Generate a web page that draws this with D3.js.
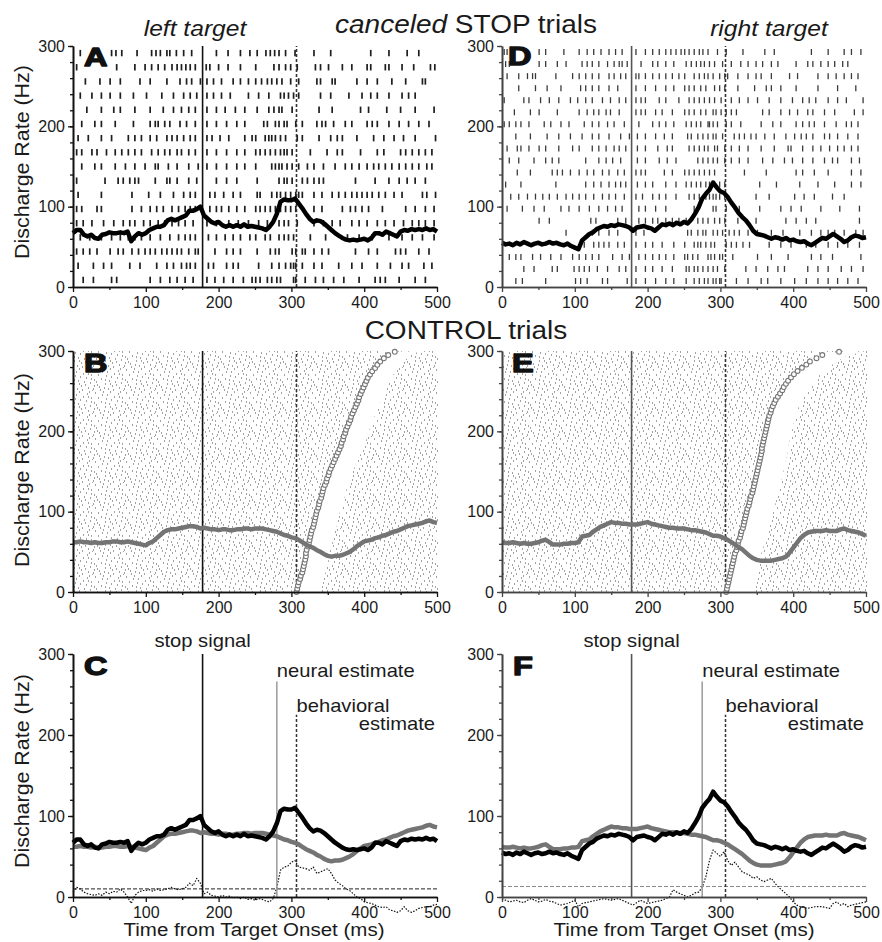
<!DOCTYPE html>
<html><head><meta charset="utf-8">
<script src="https://cdn.jsdelivr.net/npm/d3@7"></script>
<style>
body{margin:0;background:#fff}
svg{display:block}
text{font-family:"Liberation Sans",Arial,Helvetica,sans-serif}
</style>
</head><body>
<svg id="c" width="882" height="942"></svg>
<script>
// ---------------- DATA ----------------
const sampleTimes = d3.range(0, 505, 5); // ms, 5-ms samples
const xTicks = [0, 100, 200, 300, 400, 500];
const yTicks = [0, 100, 200, 300];
const stopSignal = 178;          // ms
const behavioralEstimate = 307;  // ms
const neuralEstimateLeft = 280;  // ms
const neuralEstimateRight = 275; // ms
const thresholdLeft = 10;        // Hz
const thresholdRight = 13;       // Hz
const postSaccadePauseB = 32;    // ms
const postSaccadePauseE = 36;    // ms

// canceled STOP trials spike density (left target)
const canceledLeft = [67,71,71,65,63,65,61,60,65,66,68,67,67,68,67,69,57,63,67,65,67,71,73,75,75,77,83,85,83,85,87,89,95,95,97,100,89,85,81,79,81,77,75,77,75,77,75,78,75,76,75,74,73,71,75,81,91,106,109,108,108,110,104,98,91,85,81,83,82,79,75,71,67,64,61,59,58,59,58,59,60,58,61,67,67,65,69,67,65,63,69,71,70,72,71,72,71,73,71,72,69];
// canceled STOP trials spike density (right target)
const canceledRight = [55,53,54,52,55,53,56,54,52,54,55,53,54,56,54,55,53,52,54,51,49,47,58,62,66,68,72,74,76,75,77,76,78,77,76,74,70,74,75,76,74,73,70,74,78,77,79,77,80,78,81,79,84,91,99,110,116,121,130,124,119,117,112,105,99,92,87,83,77,70,66,65,64,62,60,62,61,59,61,58,59,57,56,57,54,52,55,58,61,60,63,66,63,60,56,58,62,64,63,61,62];
// control trials spike density
const controlLeft = [62,62,63,62,62,61,62,61,61,62,62,63,63,62,62,63,62,61,60,59,58,61,63,67,71,75,77,78,78,79,80,81,82,82,81,79,80,79,78,78,77,78,78,77,77,78,78,79,79,78,79,79,79,78,77,76,75,73,71,70,68,67,65,62,59,57,55,52,50,47,45,44,45,45,46,48,50,53,57,60,63,64,65,67,68,70,71,73,75,76,78,80,82,83,84,85,86,88,89,87,86];
const controlRight = [62,61,61,62,61,60,61,60,60,61,62,64,65,62,59,59,59,60,60,61,61,62,69,70,71,75,78,81,83,85,87,86,86,85,85,84,84,84,85,86,87,85,84,83,82,81,80,80,79,79,79,78,77,77,76,75,74,72,70,70,69,67,65,62,59,56,53,49,45,42,40,39,39,39,39,40,41,42,44,49,55,61,67,71,74,75,76,76,76,77,76,76,76,78,79,77,76,75,74,72,70];
// differential spike density (canceled - control)
const diffLeft = [6,12,10,6,4,3,2,4,2,6,4,7,6,10,6,0,-8,2,6,8,8,9,7,10,8,9,10,12,10,9,10,12,17,14,23,17,4,6,2,1,0,2,0,1,-1,0,-2,0,-3,-2,-4,-2,-3,-5,-6,-2,12,33,37,38,43,45,37,36,35,33,37,29,31,33,35,29,21,17,14,10,8,4,0,-2,-6,-7,-8,-10,-12,-13,-12,-16,-17,-19,-17,-12,-17,-19,-17,-14,-13,-12,-12,-10,-9];
const diffRight = [-2,-4,-6,-5,-4,-6,-7,-4,-2,-4,-6,-5,-3,-5,-6,-8,-10,-9,-8,-6,-4,-12,-8,-7,-6,-5,-4,-3,-2,-3,-4,-3,-2,-4,-6,-8,-10,-7,-4,-6,-8,-7,-6,-5,-4,-2,0,9,6,4,2,0,2,5,6,12,25,45,58,54,50,56,45,39,43,37,31,29,27,23,25,21,19,21,23,17,12,8,4,0,-6,-10,-12,-13,-14,-13,-12,-12,-12,-13,-14,-8,-6,-10,-8,-12,-10,-9,-8,-7,-6];
// saccade times of control trials, sorted (ms)
const saccadesLeft = [307,308,309,310,312,313,315,316,317,318,319,320,320,321,323,324,325,326,327,328,330,331,332,333,334,335,337,338,339,341,342,343,344,346,348,349,351,352,354,356,358,360,362,364,366,368,369,371,372,374,375,377,379,381,382,384,386,388,390,392,393,395,397,399,401,403,405,408,411,415,418,422,427,433,442];
const saccadesRight = [308,309,310,311,312,313,314,315,316,317,318,319,320,322,323,324,325,327,328,329,331,332,333,334,335,336,337,339,340,341,342,344,345,346,347,348,349,350,351,352,353,354,355,356,357,357,358,359,360,361,362,363,364,365,366,367,369,370,372,374,376,379,382,385,387,390,393,397,401,406,412,418,423,432,440,463];
// spike times (ms) of canceled trials, one row per trial
const rasterLeft = [
[10,53,59,67,88,108,114,120,129,133,142,152,163,197,213,230,243,253,265,271,277,283,292,305,331,354,409,434,459,475],
[5,60,85,99,108,117,126,136,143,149,155,161,168,183,188,200,213,230,251,276,283,292,299,308,333,340,351,370,383,404,409,429,434,452,468,491,497],
[17,37,51,65,92,106,129,147,156,163,175,184,193,204,220,230,241,251,259,267,273,280,287,299,310,335,340,356,360,390,404,418,438,457,480,484],
[10,26,39,51,65,83,101,122,138,152,161,170,184,193,204,216,241,255,269,285,290,296,303,310,340,354,379,397,409,418,434,452,461,470],
[19,39,56,65,85,106,124,138,149,159,168,184,197,209,223,236,253,269,276,283,287,301,338,356,395,406,431,450,470,496],
[12,30,39,58,83,106,113,117,126,133,147,156,168,184,197,211,225,236,262,267,278,283,290,294,306,315,335,342,347,358,374,383,404,411,418,434,448,461,475,489],
[7,21,39,53,76,85,94,106,115,129,136,143,152,161,168,184,191,202,214,236,246,251,264,269,273,278,285,292,308,315,338,354,363,370,390,413,427,441,454,470,498],
[5,12,26,33,46,58,67,76,85,94,108,117,126,133,143,149,159,168,184,197,211,225,236,251,257,264,271,278,285,290,294,301,326,349,363,370,395,418,427,450,457,466,475,484,493],
[12,30,39,58,72,85,99,113,117,131,143,159,172,184,197,211,225,236,251,273,278,283,287,294,301,310,322,331,344,360,374,383,393,404,413,420,429,438,448,457,466,475,486,493],
[5,44,62,69,78,85,90,113,129,133,143,159,170,197,211,225,253,283,290,294,301,315,322,331,338,344,388,415,434,448,459,470,484],
[7,39,81,104,120,138,152,161,168,188,195,207,220,230,253,257,273,280,285,292,299,306,310,315,331,342,356,365,374,383,390,397,404,411,420,429,441,452,480,486,498],
[5,12,33,39,81,94,106,115,124,136,145,154,161,168,188,197,204,214,225,236,251,257,264,271,278,285,292,299,306,331,342,370,381,388,397,406,425,457,470,484,496],
[5,14,26,42,56,69,78,85,97,106,117,126,136,145,154,165,184,197,214,227,241,255,267,283,290,296,308,331,344,356,367,383,393,404,418,429,441,454,466,475,484,496],
[10,23,39,53,65,76,85,94,106,120,133,145,154,161,168,186,197,209,220,230,243,251,264,271,283,290,296,303,326,347,377,393,411,434,452,466,480,496],
[5,14,23,33,51,62,69,81,90,99,106,113,122,129,136,143,149,159,168,172,195,211,220,230,253,271,278,283,301,306,315,319,331,342,351,388,406,418,443,450,457,475,489],
[7,28,42,53,78,92,115,129,138,149,156,161,168,186,193,211,220,227,255,273,283,292,299,303,306,315,331,342,365,383,397,418,436,452,461,482,493],
[14,28,53,60,106,120,133,143,154,165,184,195,207,220,234,246,251,257,267,273,280,285,303,306,319,333,344,358,372,393,415,422,429,448,470,484]
];
const rasterRight = [
[3,7,51,60,85,106,117,126,136,147,156,165,184,197,207,216,225,232,239,246,251,257,264,271,276,283,296,308,331,361,374,425,448,470,480,493],
[5,10,51,60,76,88,110,117,124,133,145,154,161,165,172,191,207,214,225,236,253,260,267,273,278,285,292,303,315,328,338,349,358,370,379,404,420,427,438,448,457,468,475],
[7,23,35,42,46,74,97,106,115,124,133,147,154,163,170,184,188,197,207,216,225,234,243,251,264,271,278,283,290,299,306,310,324,338,349,356,370,395,406,434,448,459,470,480,489],
[23,46,62,81,108,115,124,133,147,159,184,197,211,225,236,251,257,264,273,280,292,299,306,324,347,363,370,383,404,434,461,486],
[3,30,37,53,65,78,94,104,115,124,138,149,161,170,184,191,197,216,225,243,257,264,271,278,285,292,301,315,326,338,351,367,383,399,413,422,431,448,461,473,496],
[17,39,51,76,106,117,126,133,143,149,161,184,191,197,211,220,234,251,257,264,273,280,290,294,301,308,315,322,358,367,383,395,406,420,427,443,457,484,496],
[3,10,19,26,37,58,67,81,92,113,124,133,145,154,168,188,207,216,225,236,253,260,267,273,283,285,290,296,308,315,328,356,372,383,404,413,422,429,443,459,473,480,489],
[19,39,62,78,94,110,124,133,147,163,175,186,197,211,223,234,255,260,269,276,283,290,294,303,319,326,333,342,349,361,374,390,402,411,418,427,443,450,461,475,489],
[7,21,26,37,51,60,78,97,106,124,133,143,154,161,170,186,197,214,227,234,257,264,271,278,283,292,296,306,315,326,338,356,374,393,397,413,427,438,450,461,470,480,489],
[10,23,44,60,69,78,115,133,143,152,163,186,197,216,227,239,269,276,283,290,296,306,315,326,338,358,372,388,399,413,427,443,454,461,480,491],
[21,39,69,76,83,94,106,117,126,138,147,159,168,184,191,197,223,234,251,257,264,271,278,285,292,333,363,404,413,429,448,480,493],
[5,26,74,115,126,136,147,156,163,170,186,197,207,225,239,253,260,267,273,280,285,292,299,306,354,377,409,434,457,480,493],
[12,23,35,46,56,65,76,88,97,106,115,126,138,147,156,168,184,193,207,216,225,239,257,264,271,280,285,290,294,299,306,349,367,402,415,429,454,470],
[7,28,44,58,81,92,106,120,133,145,156,165,188,197,211,225,264,290,294,308,326,354,383,397,411,438,464,491],
[51,65,122,129,159,170,188,197,207,214,225,234,243,253,269,276,283,292,299,306,324,349,390,404,418,431,491],
[88,124,133,147,159,184,195,255,260,269,276,280,290,296,303,312,319,326,338,351,370,386,409,425,438,448,457,470,486,496],
[113,126,133,140,147,159,168,184,197,207,220,236,251,264,269,273,280,287,292,308,315,322,331,340,367,383,397,418,431,448,461,475,491],
[10,19,26,42,53,67,81,97,106,115,124,133,152,165,175,188,197,207,216,225,236,251,255,262,269,283,287,292,299,303,317,351,370,393,425,438,454,493],
[30,44,69,76,99,106,113,120,131,145,161,170,184,197,207,220,234,253,257,264,269,276,283,290,296,306,335,349,365,379,388,420,434,448,466,480,496],
[19,28,60,101,108,117,138,145,172,184,197,211,225,236,253,264,271,278,283,290,294,299,301,322,338,356,365,383,402,418,434,448,461,475,489]
];

// ---------------- DRAWING ----------------
const svg = d3.select("#c");
const defs = svg.append("defs");
const FONT = '"Liberation Sans",Arial,Helvetica,sans-serif';
const SX = 1.12; // horizontal glyph stretch of the source figure

function label(x, y, str, o = {}) {
  const t = svg.append("text")
    .attr("transform", `translate(${x},${y}) rotate(${o.rotate || 0}) scale(${o.sx || SX},1)`)
    .attr("text-anchor", o.anchor || "start")
    .style("font-size", (o.size || 20) + "px")
    .style("font-style", o.style || "normal")
    .style("font-weight", o.weight || "normal")
    .attr("fill", o.fill || "#1a1a1a");
  if (o.stroke) t.attr("stroke", o.fill || "#111").attr("stroke-width", o.stroke).attr("stroke-linejoin", "round");
  t.text(str);
  return t;
}

const boxes = {
  A: {l: 73, r: 437, t: 46, b: 287, col: "#111"},
  D: {l: 502, r: 866, t: 46, b: 287, col: "#444"},
  B: {l: 73, r: 437, t: 351, b: 592, col: "#111"},
  E: {l: 502, r: 866, t: 351, b: 592, col: "#444"},
  C: {l: 73, r: 437, t: 654, b: 897, col: "#111"},
  F: {l: 502, r: 866, t: 654, b: 897, col: "#444"}
};
const sc = {};
Object.entries(boxes).forEach(([k, p]) => {
  sc[k] = {
    x: d3.scaleLinear().domain([0, 500]).range([p.l, p.r]),
    y: d3.scaleLinear().domain([0, 300]).range([p.b, p.t])
  };
  const clip = defs.append("clipPath").attr("id", "clip" + k);
  clip.append("rect").attr("x", p.l).attr("y", p.t - 2).attr("width", p.r - p.l + 1).attr("height", p.b - p.t + 2);
});

// raster dot texture (panels B/E): one irregular tile of short spike ticks
const tile = defs.append("pattern").attr("id", "dots").attr("patternUnits", "userSpaceOnUse")
  .attr("width", 31).attr("height", 23);
[[2,1],[9,3],[17,0],[25,2],[29,6],[5,6],[13,7],[21,5],[1,11],[8,10],[16,12],[24,9],
 [28,14],[4,16],[12,15],[19,17],[26,19],[0,20],[7,21],[15,20],[22,13],[11,19],[18,8],[30,22],
 [3,13],[10,0],[14,3],[20,21],[27,0],[6,18],[23,16],[29,10],[17,15],[12,11],[26,5],[1,17]]
  .forEach(([px, py]) => tile.append("rect").attr("x", px).attr("y", py)
    .attr("width", 1).attr("height", 2).attr("fill", "#a2a2a2"));

function drawAxes(k) {
  const p = boxes[k], s = sc[k];
  const g = svg.append("g");
  const ya = g.append("g").attr("transform", `translate(${p.l},0)`)
    .call(d3.axisLeft(s.y).tickValues(yTicks).tickSize(5).tickSizeOuter(0).tickPadding(3));
  const yMinor = g.append("g").attr("transform", `translate(${p.l},0)`)
    .call(d3.axisLeft(s.y).tickValues(d3.range(0, 301, 20)).tickSize(3).tickSizeOuter(0).tickFormat(""));
  const xa = g.append("g").attr("transform", `translate(0,${p.b})`)
    .call(d3.axisBottom(s.x).tickValues(xTicks).tickSize(5).tickSizeOuter(0).tickPadding(5));
  const xMinor = g.append("g").attr("transform", `translate(0,${p.b})`)
    .call(d3.axisBottom(s.x).tickValues(d3.range(50, 500, 100)).tickSize(3).tickSizeOuter(0).tickFormat(""));
  [ya, yMinor, xa, xMinor].forEach(a => {
    a.selectAll("path").attr("stroke", p.col).attr("stroke-width", 1.6);
    a.selectAll("line").attr("stroke", p.col).attr("stroke-width", 1.3);
  });
  [ya, xa].forEach(a => a.selectAll("text").style("font-size", "16px").style("font-family", FONT).attr("fill", "#1a1a1a"));
}

function vline(k, t, v0, v1, color, width, dash) {
  const s = sc[k];
  svg.append("line").attr("x1", s.x(t)).attr("x2", s.x(t)).attr("y1", s.y(v0)).attr("y2", s.y(v1))
    .attr("stroke", color).attr("stroke-width", width).attr("stroke-dasharray", dash || null);
}

function sdf(k, values, color, width, dash) {
  const s = sc[k];
  const line = d3.line().x((d, i) => s.x(sampleTimes[i])).y(d => s.y(d)).curve(d3.curveLinear);
  svg.append("path").datum(values).attr("d", line).attr("fill", "none")
    .attr("stroke", color).attr("stroke-width", width).attr("stroke-linejoin", "round")
    .attr("stroke-dasharray", dash || null);
}

function raster(k, rows, color, width, half) {
  const s = sc[k];
  const band = d3.scaleBand().domain(d3.range(rows.length)).range([s.y(300), s.y(0)]);
  const g = svg.append("g").attr("clip-path", `url(#clip${k})`);
  rows.forEach((row, i) => {
    const cy = band(i) + band.bandwidth() / 2;
    g.selectAll(null).data(row).join("line")
      .attr("x1", d => s.x(d)).attr("x2", d => s.x(d))
      .attr("y1", cy - half).attr("y2", cy + half)
      .attr("stroke", color).attr("stroke-width", width);
  });
}

function controlRaster(k, sacc, pause) {
  const p = boxes[k], s = sc[k];
  const g = svg.append("g").attr("clip-path", `url(#clip${k})`);
  g.append("rect").attr("x", p.l + 1).attr("y", p.t).attr("width", p.r - p.l).attr("height", p.b - p.t).attr("fill", "url(#dots)");
  const trial = d3.scaleLinear().domain([0, sacc.length - 1]).range([0, 299]);
  const gap = d3.area().y((d, i) => s.y(trial(i))).x0(d => s.x(d) + 1).x1(d => s.x(d + pause));
  g.append("path").datum(sacc).attr("d", gap).attr("fill", "#fff");
  return trial;
}

function saccadeMarks(k, sacc, trial) {
  const s = sc[k];
  svg.append("g").selectAll("circle").data(sacc).join("circle")
    .attr("cx", d => s.x(d)).attr("cy", (d, i) => s.y(trial(i))).attr("r", 2.4)
    .attr("fill", "#fff").attr("stroke", "#767676").attr("stroke-width", 1.1);
}

// ---- Panel A & D: canceled rasters
raster("A", rasterLeft, "#1e1e1e", 1.7, 3.2);
raster("D", rasterRight, "#3a3a3a", 1.3, 3);
vline("A", stopSignal, 0, 300, "#111", 1.6);
vline("A", behavioralEstimate, 0, 300, "#333", 1.6, "3,2");
vline("D", stopSignal, 0, 300, "#555", 1.6);
vline("D", behavioralEstimate, 0, 300, "#333", 1.6, "3,2");
sdf("A", canceledLeft, "#000", 4.5);
sdf("D", canceledRight, "#000", 4.5);

// ---- Panel B & E: control rasters
const trialB = controlRaster("B", saccadesLeft, postSaccadePauseB);
const trialE = controlRaster("E", saccadesRight, postSaccadePauseE);
vline("B", stopSignal, 0, 300, "#111", 1.6);
vline("B", behavioralEstimate, 0, 300, "#333", 1.6, "3,2");
vline("E", stopSignal, 0, 300, "#555", 1.6);
vline("E", behavioralEstimate, 0, 300, "#333", 1.6, "3,2");
saccadeMarks("B", saccadesLeft, trialB);
saccadeMarks("E", saccadesRight, trialE);
sdf("B", controlLeft, "#747474", 4.5);
sdf("E", controlRight, "#747474", 4.5);

// ---- Panel C & F: overlays
function threshold(k, v, color) {
  const s = sc[k];
  svg.append("line").attr("x1", s.x(0)).attr("x2", s.x(500)).attr("y1", s.y(v)).attr("y2", s.y(v))
    .attr("stroke", color).attr("stroke-width", 1).attr("stroke-dasharray", "4,2");
}
threshold("C", thresholdLeft, "#222");
threshold("F", thresholdRight, "#888");
sdf("C", diffLeft, "#111", 1.2, "1.5,1.5");
sdf("F", diffRight, "#111", 1.2, "1.5,1.5");
vline("C", stopSignal, 0, 300, "#111", 1.6);
vline("C", neuralEstimateLeft, 0, 266, "#9a9a9a", 1.5);
vline("C", behavioralEstimate, 0, 225, "#333", 1.5, "3,2");
vline("F", stopSignal, 0, 300, "#555", 1.6);
vline("F", neuralEstimateRight, 0, 266, "#9a9a9a", 1.5);
vline("F", behavioralEstimate, 0, 225, "#333", 1.5, "3,2");
sdf("C", controlLeft, "#747474", 4.5);
sdf("F", controlRight, "#747474", 4.5);
sdf("C", canceledLeft, "#000", 4.5);
sdf("F", canceledRight, "#000", 4.5);

// axes
["A", "B", "C", "D", "E", "F"].forEach(drawAxes);

// panel letters
[["A", 84, 66], ["D", 508, 65], ["B", 84, 372], ["E", 512, 372], ["C", 84, 675], ["F", 513, 675]]
  .forEach(([t, x, y]) => label(x, y, t, {size: 26, weight: "bold", sx: 1.25, stroke: 1.4, fill: "#111"}));

// titles
const tt = svg.append("text")
  .attr("transform", `translate(466,33) scale(${SX},1)`).attr("text-anchor", "middle")
  .style("font-size", "25px").attr("fill", "#1a1a1a");
tt.append("tspan").style("font-style", "italic").text("canceled");
tt.append("tspan").text(" STOP trials");
label(195, 36, "left target", {size: 22, style: "italic", anchor: "middle"});
label(769, 36, "right target", {size: 22, style: "italic", anchor: "middle"});
label(466, 339, "CONTROL trials", {size: 25, anchor: "middle"});

// axis titles
[162, 470, 771].forEach(cy => label(29, cy, "Discharge Rate (Hz)", {size: 20, anchor: "middle", rotate: -90, sx: 1.07}));
label(254, 936, "Time from Target Onset (ms)", {size: 19, anchor: "middle", sx: 1.08});
label(684, 936, "Time from Target Onset (ms)", {size: 19, anchor: "middle", sx: 1.08});

// annotations
label(sc.C.x(stopSignal), 647, "stop signal", {size: 18, anchor: "middle"});
label(sc.C.x(neuralEstimateLeft), 677, "neural estimate", {size: 18});
label(sc.C.x(behavioralEstimate), 712, "behavioral", {size: 18});
label(435, 730, "estimate", {size: 18, anchor: "end"});
label(sc.F.x(stopSignal), 647, "stop signal", {size: 18, anchor: "middle"});
label(sc.F.x(neuralEstimateRight), 677, "neural estimate", {size: 18});
label(sc.F.x(behavioralEstimate), 712, "behavioral", {size: 18});
label(864, 730, "estimate", {size: 18, anchor: "end"});
</script>
</body></html>
